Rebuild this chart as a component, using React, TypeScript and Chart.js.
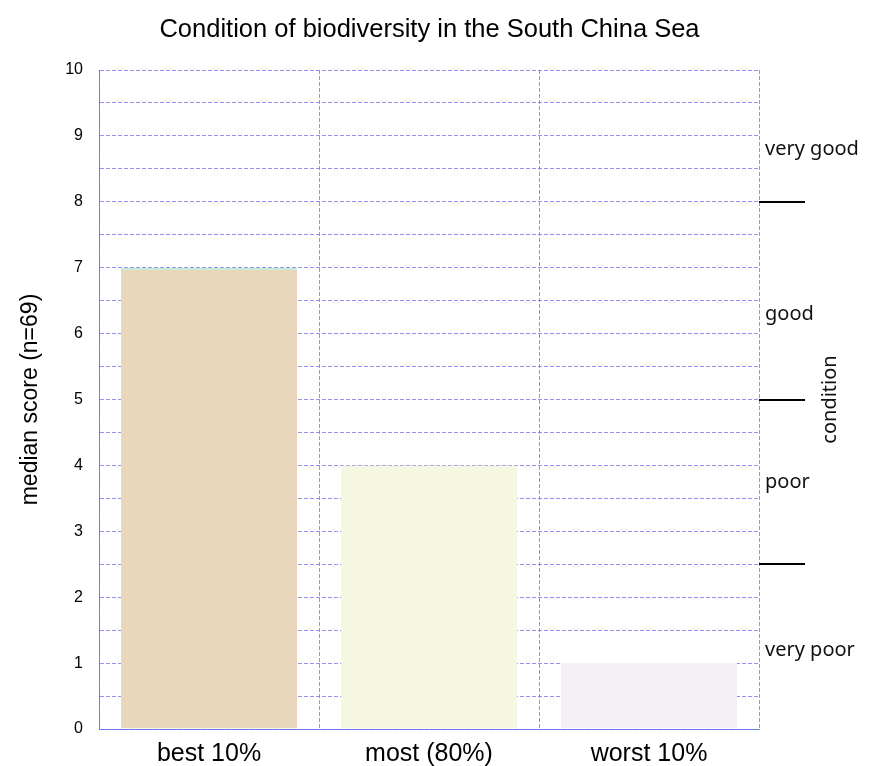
import React, { useEffect, useRef } from 'react';
import { Chart, registerables } from 'chart.js';

Chart.register(...registerables);

const chartTitle = 'Condition of biodiversity in the South China Sea';
const yAxisTitle = 'median score (n=69)';
const rightAxisTitle = 'condition';
const categories = ['best 10%', 'most (80%)', 'worst 10%'];
const medianScores = [7, 4, 1];
const barColors = ['#e8d6bd', '#f5f7e1', '#f4f0f6'];
const barTopColors = ['#bdebd6', '#f5f7e1', '#f4f0f6'];
const conditionLabels = ['very good', 'good', 'poor', 'very poor'];
const conditionLabelValues = [8.8, 6.3, 3.75, 1.2];
const conditionBoundaries = [8, 5, 2.5];

const SANS = '"Liberation Sans", Arial, Helvetica, sans-serif';
const RIGHT_FONT = '"Noto Sans", "Open Sans", sans-serif';
const GRID_COLOR = 'rgba(120, 120, 235, 0.8)';
const BORDER_COLOR = 'rgba(100, 120, 240, 0.9)';

const conditionPlugin = {
  id: 'conditionAxis',
  afterDraw(chart: any) {
    const { ctx, chartArea, scales } = chart;
    const y = scales.y;
    ctx.save();
    ctx.strokeStyle = '#000';
    ctx.lineWidth = 2;
    conditionBoundaries.forEach((v) => {
      const py = Math.round(y.getPixelForValue(v));
      ctx.beginPath();
      ctx.moveTo(chartArea.right, py);
      ctx.lineTo(chartArea.right + 46, py);
      ctx.stroke();
    });
    ctx.fillStyle = '#111';
    ctx.font = `20px ${RIGHT_FONT}`;
    ctx.textAlign = 'left';
    ctx.textBaseline = 'middle';
    conditionLabels.forEach((label, i) => {
      ctx.fillText(label, chartArea.right + 6, y.getPixelForValue(conditionLabelValues[i]));
    });
    ctx.translate(chartArea.right + 71, (chartArea.top + chartArea.bottom) / 2);
    ctx.rotate(-Math.PI / 2);
    ctx.textAlign = 'center';
    ctx.fillText(rightAxisTitle, 0, 0);
    ctx.restore();
  },
};

export default function App() {
  const ref = useRef<HTMLCanvasElement>(null);

  useEffect(() => {
    if (!ref.current) return;
    const chart = new Chart(ref.current, {
      type: 'bar',
      data: {
        labels: categories,
        datasets: [
          {
            data: medianScores,
            backgroundColor: barColors,
            borderColor: barTopColors,
            borderWidth: { top: 2, left: 0, right: 0, bottom: 0 },
            borderSkipped: 'start',
            barPercentage: 0.8,
            categoryPercentage: 1,
          },
        ],
      },
      options: {
        responsive: false,
        animation: false,
        layout: { padding: { left: 0, right: 10, top: 0, bottom: 0 } },
        plugins: {
          legend: { display: false },
          tooltip: { enabled: false },
          title: {
            display: true,
            text: chartTitle,
            color: '#000',
            font: { family: SANS, size: 25.5, weight: 'normal' },
            padding: { top: 15, bottom: 24.4 },
          },
        },
        scales: {
          x: {
            afterFit: (s: any) => {
              s.height = 37;
            },
            grid: {
              offset: true,
              drawTicks: false,
              color: GRID_COLOR,
              lineWidth: 1,
            },
            border: { display: true, color: BORDER_COLOR, width: 1, dash: [4, 2] },
            ticks: {
              color: '#000',
              font: { family: SANS, size: 25 },
              padding: 10,
            },
          },
          y: {
            min: 0,
            max: 10,
            afterFit: (s: any) => {
              s.width = 99;
            },
            grid: { drawTicks: false, color: GRID_COLOR, lineWidth: 1 },
            border: { display: true, color: BORDER_COLOR, width: 1, dash: [4, 2] },
            ticks: {
              stepSize: 0.5,
              autoSkip: false,
              color: '#000',
              font: { family: SANS, size: 16 },
              padding: 16,
              callback: (v: any) => (Number(v) % 1 === 0 ? String(v) : ''),
            },
            title: {
              display: true,
              text: yAxisTitle,
              color: '#000',
              font: { family: SANS, size: 23 },
              padding: { top: 17, bottom: 0 },
            },
          },
          y2: {
            position: 'right',
            min: 0,
            max: 10,
            afterFit: (s: any) => {
              s.width = 100;
            },
            grid: { display: false, drawOnChartArea: false },
            border: { display: false },
            ticks: { display: false },
          },
        },
      },
      plugins: [conditionPlugin],
    });
    return () => chart.destroy();
  }, []);

  return (
    <canvas
      ref={ref}
      width={869}
      height={766}
      style={{ position: 'absolute', left: 0, top: 0, display: 'block' }}
    />
  );
}
